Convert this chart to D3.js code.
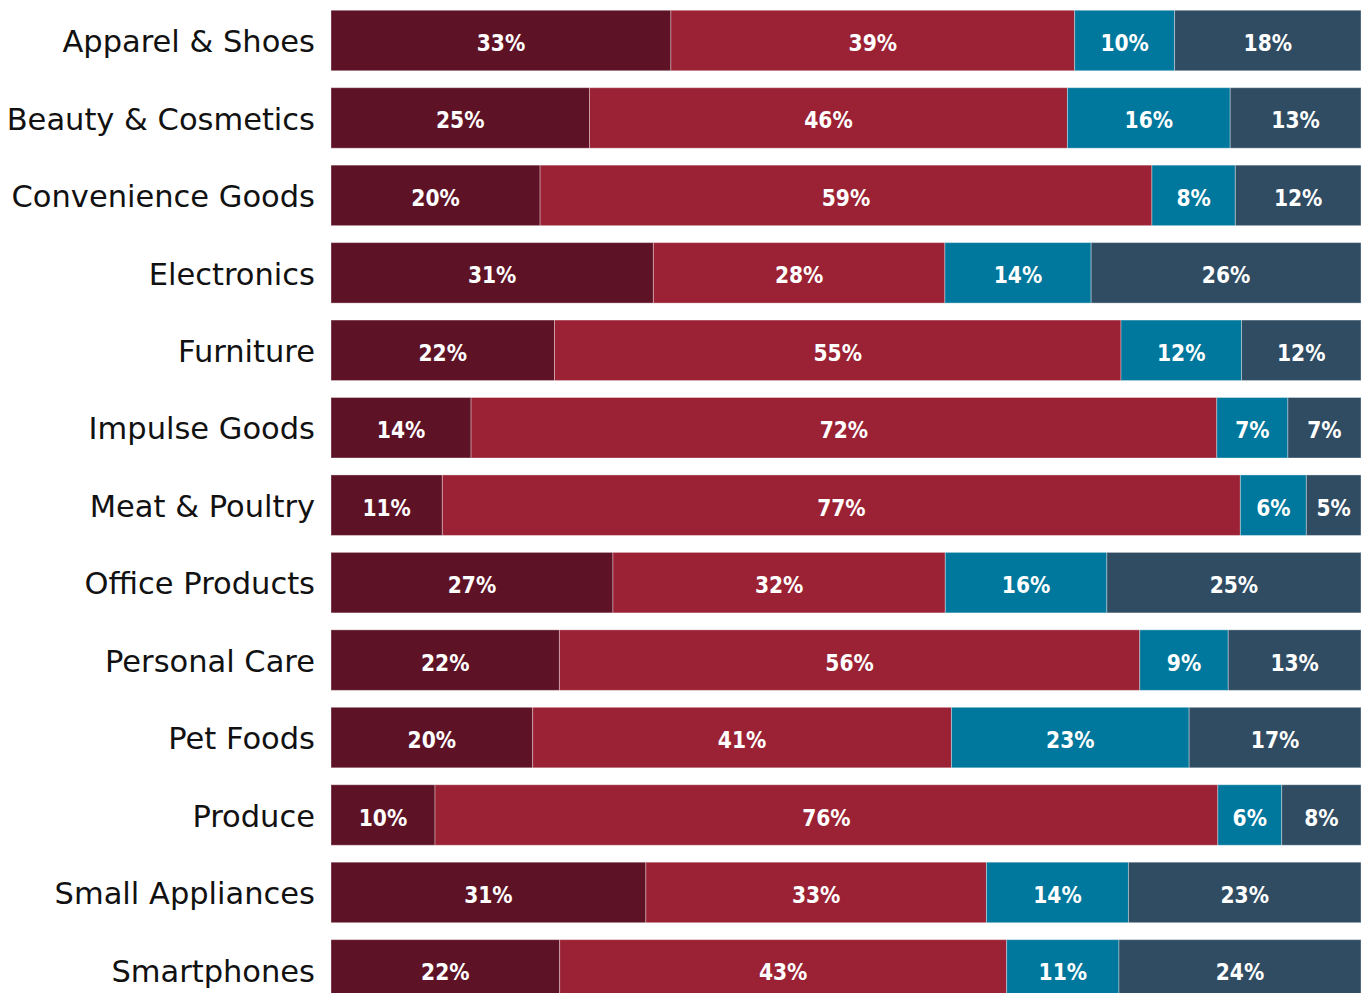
<!DOCTYPE html>
<html><head><meta charset="utf-8">
<script src="https://cdn.jsdelivr.net/npm/d3@7"></script>
<style>html,body{margin:0;padding:0;background:#fff;overflow:hidden}</style>
</head><body>
<svg id="chart" width="1362" height="993"></svg>
<script>
const categories = ["Apparel & Shoes","Beauty & Cosmetics","Convenience Goods","Electronics","Furniture","Impulse Goods","Meat & Poultry","Office Products","Personal Care","Pet Foods","Produce","Small Appliances","Smartphones"];
// four series (shares in %; labels show rounded values)
const s1 = [33.0,25.1,20.3,31.3,21.7,13.6,10.8,27.4,22.2,19.6,10.1,30.6,22.2];
const s2 = [39.2,46.4,59.4,28.3,55.0,72.4,77.4,32.3,56.4,40.7,76.0,33.1,43.4];
const s3 = [9.7,15.8,8.1,14.2,11.7,6.9,6.4,15.7,8.6,23.1,6.2,13.8,10.9];
const s4 = [18.1,12.7,12.2,26.2,11.6,7.1,5.3,24.7,12.9,16.7,7.7,22.6,23.5];
const colors = ["#5E1226","#9B2134","#00779C","#2F4C63"];

const svg = d3.select("#chart");
const left = 331, right = 1361;
const rowPitch = 77.45, firstCenter = 40.5, barH = 60.5;
const y = d3.scaleBand().domain(categories)
  .range([firstCenter - rowPitch/2, firstCenter - rowPitch/2 + rowPitch*categories.length])
  .paddingInner((rowPitch-barH)/rowPitch).paddingOuter((rowPitch-barH)/rowPitch/2);
const x = d3.scaleLinear().domain([0,1]).range([left,right]);

const series = [s1,s2,s3,s4];
const rows = categories.map((c,i)=>{
  const vals = series.map(s=>s[i]);
  const tot = d3.sum(vals);
  let acc = 0;
  return vals.map((v,k)=>{ const seg={cat:c,k,v,x0:acc/tot,x1:(acc+v)/tot}; acc+=v; return seg;});
});

const g = svg.append("g");
const segs = g.selectAll("g.row").data(rows).join("g").attr("class","row")
  .selectAll("g.seg").data(d=>d).join("g").attr("class","seg");
segs.append("rect")
  .attr("x",d=>x(d.x0)).attr("width",d=>x(d.x1)-x(d.x0))
  .attr("y",d=>y(d.cat)).attr("height",y.bandwidth())
  .attr("fill",d=>colors[d.k])
  .attr("stroke","rgba(255,255,255,0.35)").attr("stroke-width",1);
segs.append("text")
  .attr("x",d=>(x(d.x0)+x(d.x1))/2)
  .attr("y",d=>y(d.cat)+y.bandwidth()/2+2.5)
  .attr("text-anchor","middle").attr("dominant-baseline","central")
  .attr("fill","#fff")
  .style("font-family","'DejaVu Sans Condensed','DejaVu Sans',sans-serif")
  .style("font-weight","bold").style("font-size","22.5px")
  .text(d=>Math.round(d.v)+"%");

const yAxis = d3.axisLeft(y).tickSize(0).tickPadding(16);
const ax = svg.append("g").attr("transform",`translate(${left},1)`).call(yAxis);
ax.select(".domain").remove();
ax.selectAll("text").attr("fill","#111")
  .style("font-family","'DejaVu Sans',sans-serif")
  .style("font-size","30.5px").attr("dy","0.35em");
</script>
</body></html>
